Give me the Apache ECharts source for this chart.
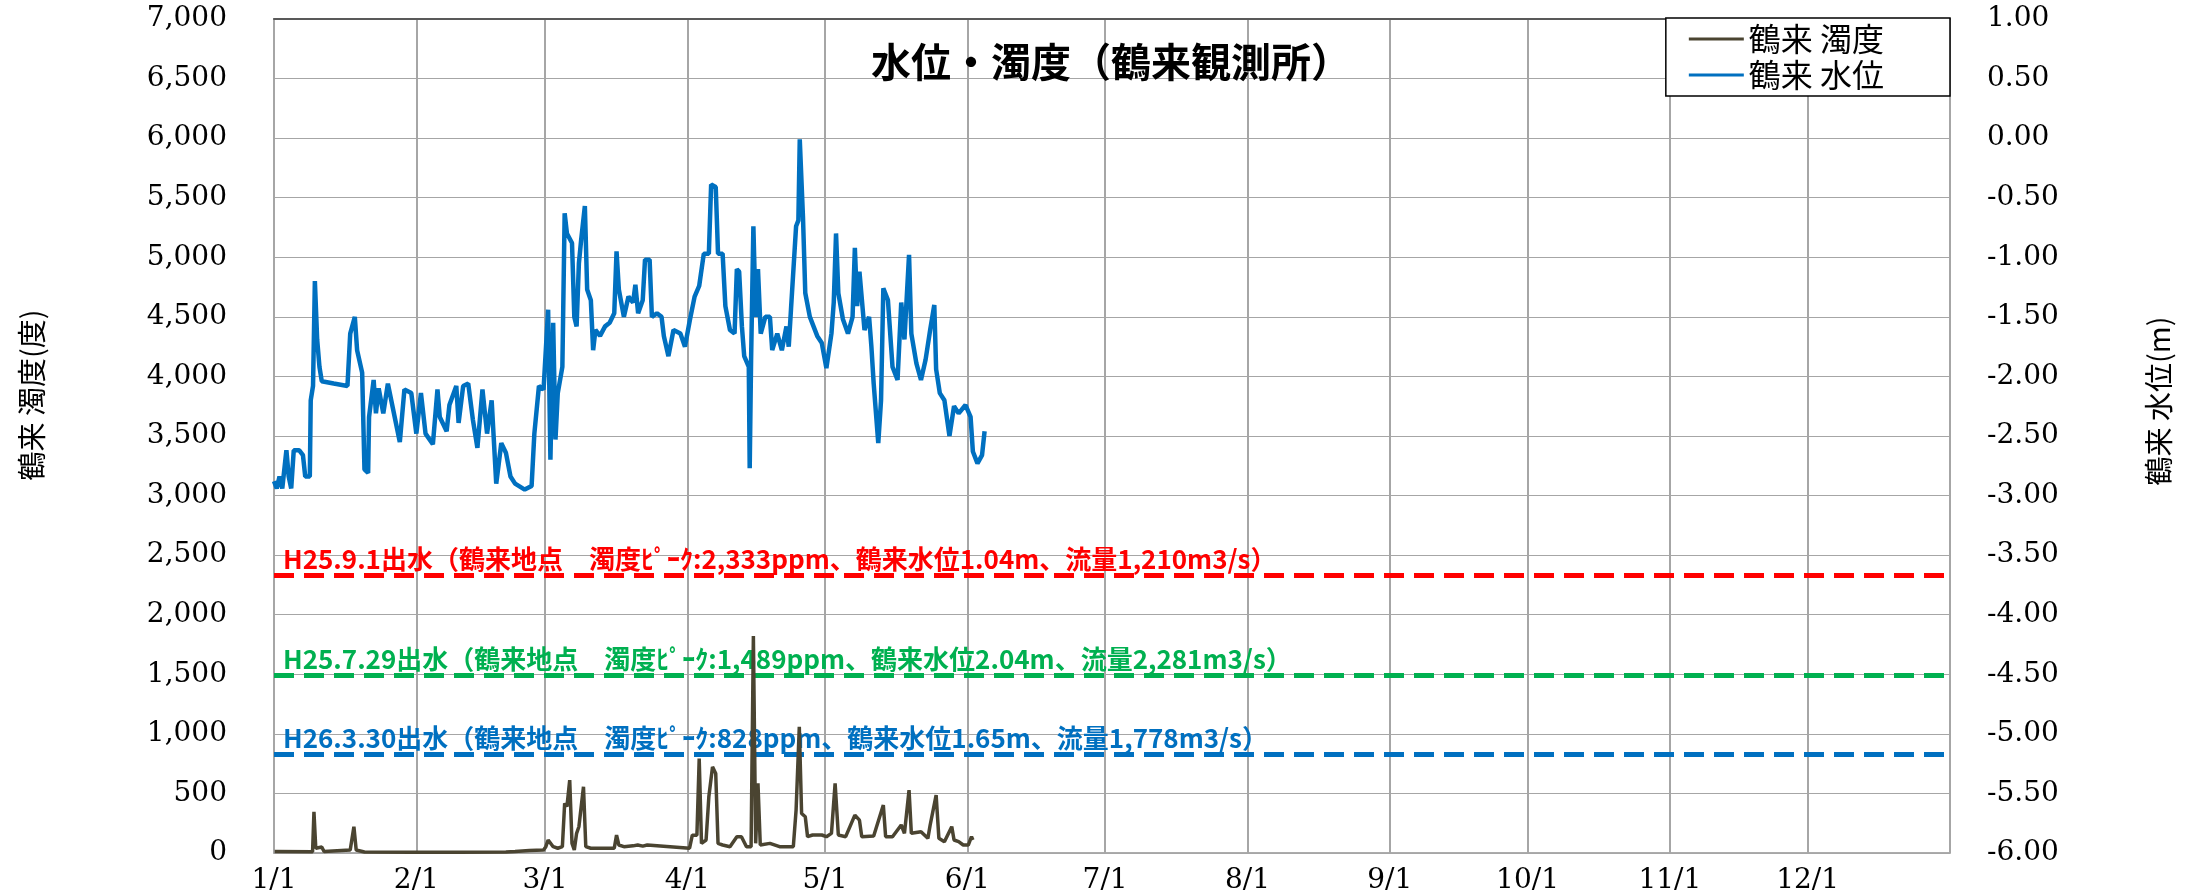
<!DOCTYPE html>
<html>
<head>
<meta charset="utf-8">
<script src="https://cdn.jsdelivr.net/npm/echarts@6/dist/echarts.min.js"></script>
<style>
html,body{margin:0;padding:0;background:#fff;}
#chart{width:2190px;height:896px;}
</style>
</head>
<body>
<div id="chart"></div>
<script>
// ---- data ----
const titleText = '水位・濁度（鶴来観測所）';
const turbName = '鶴来 濁度';
const levelName = '鶴来 水位';
const leftAxisName = '鶴来 濁度(度)';
const rightAxisName = '鶴来 水位(m)';
const yearStart = [2014, 0, 1];
// [day offset from 1/1, water level (m)]
const waterLevel = [[0.0,-2.88],[0.6,-2.94],[1.2,-2.84],[1.8,-2.94],[2.7,-2.62],[3.2,-2.84],[3.75,-2.94],[4.3,-2.62],[5.5,-2.62],[6.3,-2.66],[6.8,-2.84],[7.8,-2.84],[8.0,-2.2],[8.5,-2.08],[8.9,-1.2],[9.4,-1.69],[9.9,-1.92],[10.4,-2.04],[13,-2.06],[16.0,-2.08],[16.6,-1.64],[17.6,-1.50],[18.1,-1.78],[19.2,-1.97],[19.7,-2.78],[20.5,-2.81],[20.7,-2.34],[21.7,-2.03],[22.2,-2.31],[22.8,-2.10],[23.8,-2.31],[24.8,-2.06],[25.8,-2.25],[27.4,-2.55],[28.4,-2.11],[29.9,-2.14],[31.0,-2.48],[32.0,-2.14],[33.0,-2.48],[34.6,-2.57],[35.6,-2.11],[36.1,-2.34],[37.6,-2.46],[38.2,-2.24],[39.7,-2.08],[40.2,-2.39],[41.2,-2.08],[42.3,-2.06],[43.3,-2.36],[44.3,-2.60],[45.4,-2.11],[46.4,-2.48],[47.4,-2.20],[48.4,-2.90],[49.5,-2.56],[50.5,-2.64],[51.5,-2.84],[52.5,-2.90],[54.6,-2.95],[56.1,-2.92],[56.7,-2.48],[57.7,-2.08],[58.7,-2.11],[59.7,-1.44],[60.2,-2.70],[60.8,-1.55],[61.3,-2.53],[61.8,-2.14],[62.8,-1.92],[63.3,-0.63],[63.8,-0.80],[64.9,-0.88],[65.4,-1.50],[65.9,-1.58],[66.4,-1.05],[66.9,-0.85],[67.7,-0.57],[68.2,-1.27],[69.0,-1.36],[69.5,-1.78],[70.0,-1.61],[71.0,-1.66],[72.1,-1.58],[73.1,-1.55],[74.1,-1.47],[74.6,-0.95],[75.1,-1.27],[76.2,-1.50],[77.2,-1.33],[78.2,-1.38],[78.7,-1.23],[79.3,-1.47],[80.3,-1.36],[80.8,-1.02],[81.8,-1.02],[82.3,-1.50],[83.4,-1.47],[84.4,-1.50],[84.9,-1.66],[85.9,-1.83],[87.0,-1.61],[88.5,-1.64],[89.5,-1.75],[90.6,-1.52],[91.6,-1.33],[92.6,-1.24],[93.6,-0.97],[94.7,-0.97],[95.2,-0.39],[96.2,-0.41],[96.7,-0.97],[97.7,-0.97],[98.3,-1.41],[99.3,-1.61],[100.3,-1.64],[100.8,-1.10],[101.3,-1.12],[101.9,-1.58],[102.4,-1.83],[103.4,-1.92],[103.6,-2.77],[103.9,-1.86],[104.4,-0.74],[104.9,-1.50],[105.4,-1.10],[106.0,-1.64],[107.0,-1.50],[108.0,-1.50],[108.5,-1.78],[109.6,-1.64],[110.6,-1.78],[111.6,-1.58],[112.1,-1.75],[112.6,-1.43],[113.7,-0.74],[114.2,-0.69],[114.5,-0.01],[115.2,-0.66],[115.7,-1.30],[116.7,-1.50],[118.3,-1.66],[119.3,-1.72],[120.3,-1.93],[121.4,-1.64],[121.9,-1.38],[122.4,-0.80],[122.9,-1.30],[123.9,-1.52],[125.0,-1.64],[126.0,-1.50],[126.5,-0.92],[127.0,-1.41],[127.5,-1.12],[128.6,-1.61],[129.6,-1.50],[130.1,-1.75],[130.6,-2.06],[131.6,-2.56],[132.2,-2.20],[132.7,-1.26],[133.7,-1.36],[134.7,-1.92],[135.8,-2.03],[136.6,-1.38],[137.3,-1.69],[138.3,-0.98],[138.8,-1.64],[139.9,-1.89],[140.9,-2.03],[141.9,-1.86],[142.9,-1.61],[143.8,-1.40],[144.2,-1.94],[145.0,-2.14],[146.0,-2.20],[147.1,-2.50],[148.1,-2.25],[149.1,-2.31],[150.6,-2.24],[151.7,-2.34],[152.2,-2.63],[153.2,-2.73],[154.2,-2.66],[154.75,-2.46]];
// [day offset from 1/1, turbidity (度)]
const turbidity = [[0.15,12],[8.4,10],[8.7,346],[9.1,40],[10.4,50],[10.9,12],[16.6,25],[17.4,220],[17.9,25],[19.7,8],[29.9,6],[40.2,6],[50.5,8],[52.5,12],[55.6,20],[58.7,25],[59.2,53],[59.7,109],[60.8,53],[61.8,40],[62.8,53],[63.3,416],[63.8,390],[64.4,612],[64.9,81],[65.4,25],[65.9,165],[66.4,220],[67.4,556],[67.9,53],[69.0,40],[74.1,40],[74.6,150],[75.1,67],[76.2,53],[78.2,60],[79.2,67],[80.3,58],[81.3,67],[90.5,40],[91.1,150],[92.1,150],[92.6,793],[93.1,81],[94.1,109],[94.7,472],[95.5,723],[96.2,667],[96.7,81],[97.7,67],[99.3,53],[100.8,137],[101.8,137],[102.9,53],[103.9,53],[104.4,1821],[104.9,81],[105.4,584],[105.9,67],[108.0,81],[110.1,53],[113.1,53],[113.7,360],[114.4,1059],[114.9,332],[115.7,304],[116.2,137],[117.3,151],[119.3,151],[120.3,137],[121.4,165],[122.2,584],[122.9,151],[124.5,137],[126.5,318],[127.5,276],[128.0,137],[130.6,142],[132.7,402],[133.2,137],[134.7,137],[136.6,235],[137.3,165],[138.3,528],[138.8,165],[140.9,179],[142.4,123],[142.9,235],[144.2,486],[144.8,123],[146.0,95],[147.6,221],[148.1,109],[149.1,95],[150.1,67],[151.2,67],[151.9,137],[152.2,109]];
// past flood reference lines
const floodValues = [2333, 1489, 828];
const floodLabels = [
  'H25.9.1出水（鶴来地点　濁度ﾋﾟｰｸ:2,333ppm、鶴来水位1.04m、流量1,210m3/s）',
  'H25.7.29出水（鶴来地点　濁度ﾋﾟｰｸ:1,489ppm、鶴来水位2.04m、流量2,281m3/s）',
  'H26.3.30出水（鶴来地点　濁度ﾋﾟｰｸ:828ppm、鶴来水位1.65m、流量1,778m3/s）'
];
const floodColors = ['#ff0000', '#00b050', '#0070c0'];

// ---- build ----
const DAY = 86400000;
const BASE = new Date(yearStart[0], yearStart[1], yearStart[2]).getTime();
const END = new Date(yearStart[0] + 1, 0, 1).getTime();
const toT = d => BASE + d * DAY;
const levelSeries = waterLevel.map(p => [toT(p[0]), p[1]]);
const turbSeries = turbidity.map(p => [toT(p[0]), p[1]]);

const serif = 'DejaVu Serif';
const cjk = 'Noto Sans CJK JP';
const gridColor = '#a6a6a6';

const chart = echarts.init(document.getElementById('chart'));
chart.setOption({
  backgroundColor: '#fff',
  animation: false,
  title: {
    text: titleText, left: 1106, top: 37, textAlign: 'center',
    textStyle: {fontFamily: cjk, fontSize: 40, fontWeight: 'bold', color: '#000'}
  },
  legend: {
    orient: 'vertical', right: 240, top: 18,
    data: [turbName, levelName],
    icon: 'rect', itemWidth: 55, itemHeight: 3, itemGap: 4,
    padding: [5, 66, 5, 23],
    borderColor: '#000', borderWidth: 1.5, backgroundColor: '#fff',
    textStyle: {fontFamily: cjk, fontSize: 32, color: '#000'}
  },
  grid: {left: 274, right: 240, top: 19, bottom: 43, show: true, borderColor: gridColor, borderWidth: 1.5},
  xAxis: [{
    type: 'time', min: BASE, max: END, splitNumber: 12,
    minInterval: 28 * DAY, maxInterval: 31 * DAY,
    axisLine: {show: true, onZero: false, lineStyle: {color: gridColor, width: 1.5}},
    axisTick: {show: false},
    axisLabel: {
      fontFamily: serif, fontSize: 28, color: '#000', margin: 14,
      showMaxLabel: false, showMinLabel: true, hideOverlap: false,
      formatter: v => { const d = new Date(v); return (d.getMonth() + 1) + '/' + d.getDate(); }
    },
    splitLine: {show: true, lineStyle: {color: gridColor, width: 2}}
  }, {
    type: 'value', position: 'top', min: 0, max: 1, gridIndex: 0,
    axisLine: {show: true, onZero: false, lineStyle: {color: '#595959', width: 2}},
    axisTick: {show: false}, axisLabel: {show: false}, splitLine: {show: false}
  }],
  yAxis: [{
    type: 'value', min: 0, max: 7000, interval: 500,
    name: leftAxisName, nameLocation: 'middle', nameGap: 228, nameRotate: 90,
    nameTextStyle: {fontFamily: cjk, fontSize: 29, color: '#000', padding: [0, 0, 0, 82]},
    axisLine: {show: true, lineStyle: {color: gridColor, width: 1.5}},
    axisTick: {show: false},
    axisLabel: {fontFamily: serif, fontSize: 28, color: '#000', margin: 47,
      formatter: v => v.toLocaleString('en-US')},
    splitLine: {show: true, lineStyle: {color: gridColor, width: 1.2}}
  }, {
    type: 'value', min: -6, max: 1, interval: 0.5, position: 'right',
    name: rightAxisName, nameLocation: 'middle', nameGap: 194, nameRotate: 90,
    nameTextStyle: {fontFamily: cjk, fontSize: 29, color: '#000', padding: [0, 0, 0, 70]},
    axisLine: {show: false}, axisTick: {show: false},
    axisLabel: {fontFamily: serif, fontSize: 28, color: '#000', margin: 37, align: 'left',
      formatter: v => v.toFixed(2)},
    splitLine: {show: false}
  }],
  series: [{
    name: turbName, type: 'line', xAxisIndex: 0, yAxisIndex: 0, z: 4,
    data: turbSeries, showSymbol: false, symbol: 'none',
    lineStyle: {color: '#4a4431', width: 3.5}, itemStyle: {color: '#4a4431'}
  }, {
    name: levelName, type: 'line', xAxisIndex: 0, yAxisIndex: 1, z: 5,
    data: levelSeries, showSymbol: false, symbol: 'none',
    lineStyle: {color: '#0070c0', width: 4.5}, itemStyle: {color: '#0070c0'}
  }, {
    name: 'flood', type: 'line', xAxisIndex: 0, yAxisIndex: 0, z: 1, data: [],
    markLine: {
      silent: true, symbol: 'none', z: 1, animation: false,
      data: floodValues.map((v, i) => ({
        yAxis: v,
        lineStyle: {color: floodColors[i], width: 5, type: [20, 10]},
        label: {show: true, position: 'insideStartTop', distance: [9, 3], formatter: floodLabels[i],
          color: floodColors[i], fontFamily: cjk, fontWeight: 'bold', fontSize: 26}
      }))
    }
  }]
});
</script>
</body>
</html>
